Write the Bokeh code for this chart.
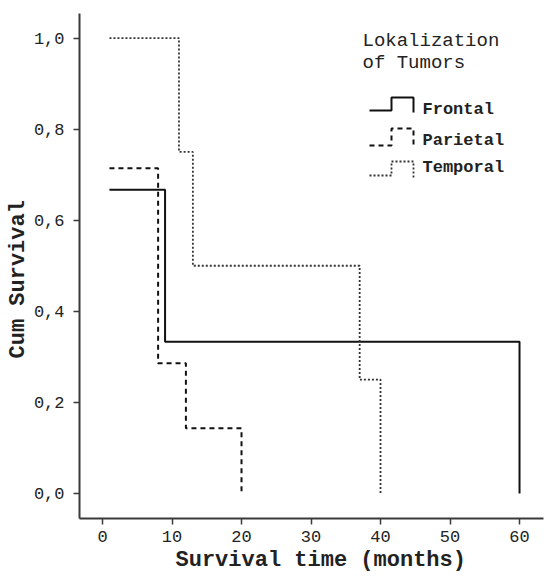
from bokeh.plotting import figure
from bokeh.models import (Range1d, FixedTicker, CustomJSTickFormatter, Label, Title)
from bokeh.embed import file_html
from bokeh.resources import INLINE

# ---- data ----
frontal_time = [1, 9, 60]
frontal_surv = [0.667, 0.333, 0.0]
parietal_time = [1, 8, 12, 20]
parietal_surv = [0.714, 0.286, 0.143, 0.0]
temporal_time = [1, 11, 13, 37, 40]
temporal_surv = [1.0, 0.75, 0.5, 0.25, 0.0]

series_names = ["Frontal", "Parietal", "Temporal"]
legend_title = ["Lokalization", "of Tumors"]
x_ticks = [0, 10, 20, 30, 40, 50, 60]
y_ticks = [0.0, 0.2, 0.4, 0.6, 0.8, 1.0]
x_title = "Survival time (months)"
y_title = "Cum Survival"

FONT = "Liberation Mono"
W, H = 549, 578
X0, X1 = -3.31, 63.45
Y0, Y1 = -0.055, 1.054
BL, BR, BT, BB = 79, 6, 13, 60

p = figure(width=W, height=H, output_backend="svg", toolbar_location=None,
           x_range=Range1d(X0, X1), y_range=Range1d(Y0, Y1),
           min_border_left=BL, min_border_right=BR, min_border_top=BT,
           min_border_bottom=BB)
p.outline_line_color = None
p.xgrid.visible = False
p.ygrid.visible = False
p.background_fill_color = "white"
p.border_fill_color = "white"

for ax in (p.xaxis[0], p.yaxis[0]):
    ax.axis_line_color = "#3a3a3a"
    ax.axis_line_width = 2
    ax.major_tick_line_color = "#3a3a3a"
    ax.major_tick_line_width = 1.5
    ax.major_tick_in = 0
    ax.major_tick_out = 6
    ax.minor_tick_line_color = None
    ax.major_label_text_font = FONT
    ax.major_label_text_font_size = "17px"
    ax.major_label_text_color = "#222222"

p.xaxis[0].ticker = FixedTicker(ticks=x_ticks)
p.yaxis[0].ticker = FixedTicker(ticks=y_ticks)
p.xaxis[0].major_label_standoff = 6
p.yaxis[0].major_label_standoff = 9
p.yaxis[0].formatter = CustomJSTickFormatter(code="return tick.toFixed(1).replace('.', ',');")

styles = [dict(line_dash="solid", line_width=2),
          dict(line_dash="5 4", line_width=2),
          dict(line_dash="2 2", line_width=1.8)]
colors = ["#111111", "#111111", "#333333"]
data = [(frontal_time, frontal_surv), (parietal_time, parietal_surv),
        (temporal_time, temporal_surv)]
for (t, s), st, c in zip(data, styles, colors):
    p.step(t, s, mode="after", line_color=c, **st)

# ---- legend (drawn manually to mimic step icons) ----
fw = W - BL - BR
fh = H - BT - BB
def dx(px):  # canvas pixel -> data x
    return X0 + (px - BL) / fw * (X1 - X0)
def dy(py):
    return Y1 - (py - BT) / fh * (Y1 - Y0)

icon_rows = [(110, 97, 112), (145, 128, 147), (175, 161, 178)]
text_rows = [109, 140, 167]
for (lo, hi, end), st, c, name, ty in zip(icon_rows, styles, colors, series_names, text_rows):
    xs = [dx(369), dx(391), dx(391), dx(413), dx(413)]
    ys = [dy(lo), dy(lo), dy(hi), dy(hi), dy(end)]
    p.line(xs, ys, line_color=c, **st)
    p.add_layout(Label(x=dx(422), y=dy(ty), text=name, text_font=FONT,
                       text_font_size="17px", text_font_style="bold",
                       text_color="#222222", text_baseline="middle",
                       text_align="left"))

for i, line in enumerate(legend_title):
    p.add_layout(Label(x=dx(362), y=dy(40 + 22 * i), text=line, text_font=FONT,
                       text_font_size="19px", text_color="#222222",
                       text_baseline="middle", text_align="left"))

# axis titles as side-panel titles (offset like the original)
p.add_layout(Title(text=x_title, align="left", offset=96, standoff=2,
                   text_font=FONT, text_font_size="22px", text_font_style="bold",
                   text_color="#222222"), "below")
p.add_layout(Title(text=y_title, align="left", offset=160, standoff=0,
                   text_font=FONT, text_font_size="22px", text_font_style="bold",
                   text_color="#222222"), "left")

open("out.html", "w").write(file_html(p, INLINE))
